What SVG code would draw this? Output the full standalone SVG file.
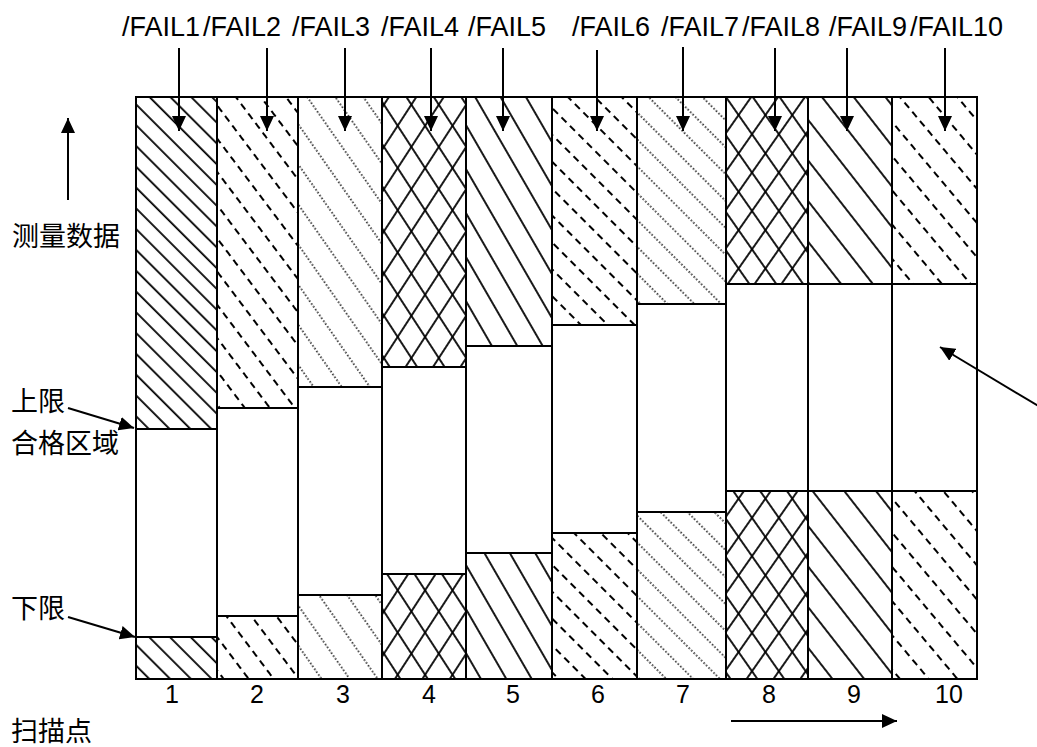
<svg xmlns="http://www.w3.org/2000/svg" width="1037" height="747" viewBox="0 0 1037 747">
<style>
.h{stroke:#000;stroke-width:1.8;fill:none}
.d{stroke:#000;stroke-width:1.8;fill:none;stroke-dasharray:7 5}
.o{stroke:#000;stroke-width:1.5;fill:none;stroke-dasharray:1.5 2}
.box{fill:none;stroke:#000;stroke-width:2}
.lim{stroke:#000;stroke-width:2}
.w{fill:#fff}
.ar{stroke:#000;stroke-width:2;fill:none;marker-end:url(#ah)}
.lt{font-family:"Liberation Sans",Arial,sans-serif;font-size:27px;fill:#000}
.num{font-family:"Liberation Sans",Arial,sans-serif;font-size:25px;fill:#000;text-anchor:middle}
.cj{font-family:"Noto Sans CJK SC",sans-serif;font-size:27px;fill:#000}
</style>
<defs>
<marker id="ah" markerUnits="userSpaceOnUse" markerWidth="16" markerHeight="14" refX="15" refY="7" orient="auto"><path d="M0,0 L15,7 L0,14 Z" fill="#000"/></marker>
<pattern id="p1" patternUnits="userSpaceOnUse" width="20" height="14.7" patternTransform="rotate(45)"><line class="h" x1="0" y1="7" x2="20" y2="7"/></pattern>
<pattern id="p2" patternUnits="userSpaceOnUse" width="24" height="20" patternTransform="rotate(53)"><line class="d" x1="0" y1="10" x2="24" y2="10"/></pattern>
<pattern id="p3" patternUnits="userSpaceOnUse" width="7" height="23" patternTransform="rotate(55)"><line class="o" x1="0" y1="11" x2="7" y2="11"/></pattern>
<pattern id="p4a" patternUnits="userSpaceOnUse" width="20" height="23" patternTransform="rotate(57)"><line class="h" x1="0" y1="11" x2="20" y2="11"/></pattern>
<pattern id="p4b" patternUnits="userSpaceOnUse" width="20" height="23" patternTransform="rotate(-57)"><line class="h" x1="0" y1="11" x2="20" y2="11"/></pattern>
<pattern id="p5" patternUnits="userSpaceOnUse" width="20" height="22" patternTransform="rotate(60)"><line class="h" x1="0" y1="11" x2="20" y2="11"/></pattern>
<pattern id="p6" patternUnits="userSpaceOnUse" width="24" height="19" patternTransform="rotate(45)"><line class="d" x1="0" y1="9" x2="24" y2="9"/></pattern>
<pattern id="p7" patternUnits="userSpaceOnUse" width="7" height="19" patternTransform="rotate(45)"><line class="o" x1="0" y1="9" x2="7" y2="9"/></pattern>
<pattern id="p8a" patternUnits="userSpaceOnUse" width="20" height="22" patternTransform="rotate(55)"><line class="h" x1="0" y1="11" x2="20" y2="11"/></pattern>
<pattern id="p8b" patternUnits="userSpaceOnUse" width="20" height="22" patternTransform="rotate(-55)"><line class="h" x1="0" y1="11" x2="20" y2="11"/></pattern>
<pattern id="p9" patternUnits="userSpaceOnUse" width="20" height="25" patternTransform="rotate(52)"><line class="h" x1="0" y1="12" x2="20" y2="12"/></pattern>
<pattern id="p10" patternUnits="userSpaceOnUse" width="24" height="22" patternTransform="rotate(50)"><line class="d" x1="0" y1="11" x2="24" y2="11"/></pattern>
</defs>
<rect width="1037" height="747" fill="#fff"/>

<g id="col1">
<rect x="136" y="97" width="81" height="582" fill="url(#p1)"/>
<rect class="w" x="136" y="429" width="81" height="208"/>
<line class="lim" x1="136" y1="429" x2="217" y2="429"/><line class="lim" x1="136" y1="637" x2="217" y2="637"/>
</g>
<g id="col2">
<rect x="217" y="97" width="81" height="582" fill="url(#p2)"/>
<rect class="w" x="217" y="408" width="81" height="208"/>
<line class="lim" x1="217" y1="408" x2="298" y2="408"/><line class="lim" x1="217" y1="616" x2="298" y2="616"/>
</g>
<g id="col3">
<rect x="298" y="97" width="84" height="582" fill="url(#p3)"/>
<rect class="w" x="298" y="387" width="84" height="208"/>
<line class="lim" x1="298" y1="387" x2="382" y2="387"/><line class="lim" x1="298" y1="595" x2="382" y2="595"/>
</g>
<g id="col4">
<rect x="382" y="97" width="84" height="582" fill="url(#p4a)"/>
<rect x="382" y="97" width="84" height="582" fill="url(#p4b)"/>
<rect class="w" x="382" y="367" width="84" height="207"/>
<line class="lim" x1="382" y1="367" x2="466" y2="367"/><line class="lim" x1="382" y1="574" x2="466" y2="574"/>
</g>
<g id="col5">
<rect x="466" y="97" width="86" height="582" fill="url(#p5)"/>
<rect class="w" x="466" y="346" width="86" height="207"/>
<line class="lim" x1="466" y1="346" x2="552" y2="346"/><line class="lim" x1="466" y1="553" x2="552" y2="553"/>
</g>
<g id="col6">
<rect x="552" y="97" width="85" height="582" fill="url(#p6)"/>
<rect class="w" x="552" y="325" width="85" height="208"/>
<line class="lim" x1="552" y1="325" x2="637" y2="325"/><line class="lim" x1="552" y1="533" x2="637" y2="533"/>
</g>
<g id="col7">
<rect x="637" y="97" width="89" height="582" fill="url(#p7)"/>
<rect class="w" x="637" y="304" width="89" height="208"/>
<line class="lim" x1="637" y1="304" x2="726" y2="304"/><line class="lim" x1="637" y1="512" x2="726" y2="512"/>
</g>
<g id="col8">
<rect x="726" y="97" width="82" height="582" fill="url(#p8a)"/>
<rect x="726" y="97" width="82" height="582" fill="url(#p8b)"/>
<rect class="w" x="726" y="284" width="82" height="207"/>
<line class="lim" x1="726" y1="284" x2="808" y2="284"/><line class="lim" x1="726" y1="491" x2="808" y2="491"/>
</g>
<g id="col9">
<rect x="808" y="97" width="84" height="582" fill="url(#p9)"/>
<rect class="w" x="808" y="284" width="84" height="207"/>
<line class="lim" x1="808" y1="284" x2="892" y2="284"/><line class="lim" x1="808" y1="491" x2="892" y2="491"/>
</g>
<g id="col10">
<rect x="892" y="97" width="85" height="582" fill="url(#p10)"/>
<rect class="w" x="892" y="284" width="85" height="207"/>
<line class="lim" x1="892" y1="284" x2="977" y2="284"/><line class="lim" x1="892" y1="491" x2="977" y2="491"/>
</g>

<g id="frame">
<rect class="box" x="136" y="97" width="841" height="582"/>
<line class="lim" x1="217" y1="97" x2="217" y2="679"/>
<line class="lim" x1="298" y1="97" x2="298" y2="679"/>
<line class="lim" x1="382" y1="97" x2="382" y2="679"/>
<line class="lim" x1="466" y1="97" x2="466" y2="679"/>
<line class="lim" x1="552" y1="97" x2="552" y2="679"/>
<line class="lim" x1="637" y1="97" x2="637" y2="679"/>
<line class="lim" x1="726" y1="97" x2="726" y2="679"/>
<line class="lim" x1="808" y1="97" x2="808" y2="679"/>
<line class="lim" x1="892" y1="97" x2="892" y2="679"/>
</g>

<g id="connectors">
<line class="ar" x1="179" y1="48" x2="179" y2="131"/>
<line class="ar" x1="267" y1="48" x2="267" y2="131"/>
<line class="ar" x1="345" y1="48" x2="345" y2="131"/>
<line class="ar" x1="431" y1="48" x2="431" y2="131"/>
<line class="ar" x1="503" y1="48" x2="503" y2="131"/>
<line class="ar" x1="597" y1="50" x2="597" y2="131"/>
<line class="ar" x1="683" y1="47" x2="683" y2="131"/>
<line class="ar" x1="775" y1="48" x2="775" y2="131"/>
<line class="ar" x1="847" y1="48" x2="847" y2="131"/>
<line class="ar" x1="945" y1="48" x2="945" y2="131"/>
<line class="ar" x1="68" y1="200" x2="68" y2="118"/>
<line class="ar" x1="68" y1="408" x2="134" y2="428"/>
<line class="ar" x1="68" y1="617" x2="135" y2="637"/>
<line class="ar" x1="731" y1="721" x2="897" y2="721"/>
<line class="ar" x1="1040" y1="407" x2="940" y2="347"/>
</g>

<g id="labels">
<text class="lt" x="122" y="36">/FAIL1</text>
<text class="lt" x="203" y="36">/FAIL2</text>
<text class="lt" x="292" y="36">/FAIL3</text>
<text class="lt" x="381" y="36">/FAIL4</text>
<text class="lt" x="468" y="36">/FAIL5</text>
<text class="lt" x="572" y="36">/FAIL6</text>
<text class="lt" x="661" y="36">/FAIL7</text>
<text class="lt" x="742" y="36">/FAIL8</text>
<text class="lt" x="829" y="36">/FAIL9</text>
<text class="lt" x="910" y="36">/FAIL10</text>
<text class="num" x="172" y="703">1</text>
<text class="num" x="257" y="703">2</text>
<text class="num" x="343" y="703">3</text>
<text class="num" x="429" y="703">4</text>
<text class="num" x="513" y="703">5</text>
<text class="num" x="598" y="703">6</text>
<text class="num" x="683" y="703">7</text>
<text class="num" x="769" y="703">8</text>
<text class="num" x="854" y="703">9</text>
<text class="num" x="949" y="703">10</text>
<text class="cj" x="12" y="246">测量数据</text>
<text class="cj" x="11" y="411">上限</text>
<text class="cj" x="11" y="453">合格区域</text>
<text class="cj" x="11" y="618">下限</text>
<text class="cj" x="11" y="741">扫描点</text>
</g>
</svg>
